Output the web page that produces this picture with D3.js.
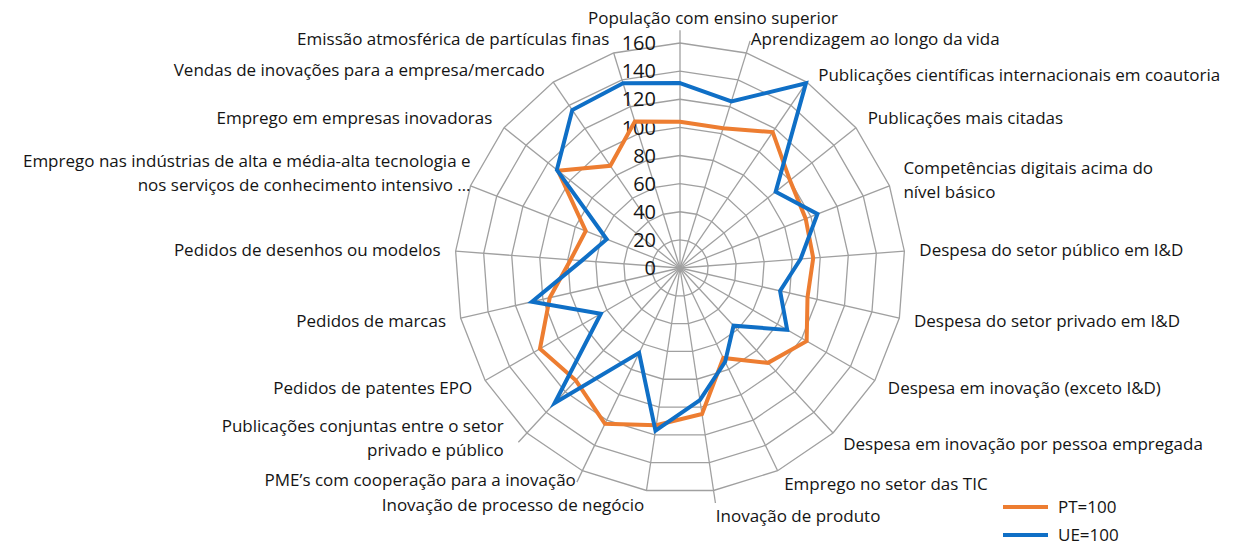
<!DOCTYPE html>
<html>
<head>
<meta charset="utf-8">
<script src="https://cdn.jsdelivr.net/npm/d3@7"></script>
<style>
  body { margin: 0; background: #fff; }
  svg text { font-family: "Open Sans", sans-serif; fill: #141414; }
</style>
</head>
<body>
<div id="chart"></div>
<script>
// indicator names, clockwise from the top
var indicators = [
  ["População com ensino superior"],
  ["Aprendizagem ao longo da vida"],
  ["Publicações científicas internacionais em coautoria"],
  ["Publicações mais citadas"],
  ["Competências digitais acima do", "nível básico"],
  ["Despesa do setor público em I&D"],
  ["Despesa do setor privado em I&D"],
  ["Despesa em inovação (exceto I&D)"],
  ["Despesa em inovação por pessoa empregada"],
  ["Emprego no setor das TIC"],
  ["Inovação de produto"],
  ["Inovação de processo de negócio"],
  ["PME’s com cooperação para a inovação"],
  ["Publicações conjuntas entre o setor", "privado e público"],
  ["Pedidos de patentes EPO"],
  ["Pedidos de marcas"],
  ["Pedidos de desenhos ou modelos"],
  ["Emprego nas indústrias de alta e média-alta tecnologia e", "nos serviços de conhecimento intensivo …"],
  ["Emprego em empresas inovadoras"],
  ["Vendas de inovações para a empresa/mercado"],
  ["Emissão atmosférica de partículas finas"]
];

var ptValues = [104, 104, 117, 100, 96, 95, 93, 104, 92, 71, 105, 113, 123, 109, 115, 95, 78, 72, 111, 88, 109];
var ueValues = [131.5, 124, 159, 87, 105, 86, 73, 88, 56, 74, 95, 117, 67, 131, 65, 108, 70, 56, 112, 136, 137.5];

var seriesNames = ["PT=100", "UE=100"];
var seriesColors = ["#ed7d31", "#0f6fc6"];
var tickValues = [0, 20, 40, 60, 80, 100, 120, 140, 160];

var width = 1235, height = 547;
var cx = 680, cy = 268;
var outerR = 225;
var labelR = 240;
var n = indicators.length;

var svg = d3.select("#chart").append("svg")
  .attr("width", width)
  .attr("height", height);

var r = d3.scaleLinear().domain([0, 160]).range([0, outerR]);
var angle = d3.scaleLinear().domain([0, n]).range([0, 2 * Math.PI]);

function pt(i, v) {
  var a = angle(i);
  return [cx + Math.sin(a) * r(v), cy - Math.cos(a) * r(v)];
}

var g = svg.append("g");

// rings
tickValues.slice(1).forEach(function(t) {
  var ring = d3.range(n).map(function(i) { return pt(i, t); });
  g.append("path")
    .attr("d", d3.line()(ring) + "Z")
    .attr("fill", "none")
    .attr("stroke", "#a0a0a0")
    .attr("stroke-width", 1.3);
});

// spokes (a few reach out to their moved labels)
var leaderAxes = [0, 1, 10, 12, 13];
d3.range(n).forEach(function(i) {
  var end = leaderAxes.indexOf(i) >= 0 ? 169 : 160;
  var p = pt(i, end);
  g.append("line")
    .attr("x1", cx).attr("y1", cy)
    .attr("x2", p[0]).attr("y2", p[1])
    .attr("stroke", "#a0a0a0")
    .attr("stroke-width", 1.3);
});

// tick labels
g.selectAll("text.tick")
  .data(tickValues)
  .enter().append("text")
  .attr("class", "tick")
  .attr("x", cx - 24)
  .attr("y", function(d) { return cy - r(d); })
  .attr("dy", "0.36em")
  .attr("text-anchor", "end")
  .attr("font-size", 20)
  .text(function(d) { return d; });

// series
var line = d3.line()
  .x(function(d) { return d[0]; })
  .y(function(d) { return d[1]; });

[ptValues, ueValues].forEach(function(vals, k) {
  var pts = vals.map(function(v, i) { return pt(i, v); });
  g.append("path")
    .attr("d", line(pts) + "Z")
    .attr("fill", "none")
    .attr("stroke", seriesColors[k])
    .attr("stroke-width", 4)
    .attr("stroke-linejoin", "miter");
});

// axis labels
var nudge = { 0: [33, -10], 10: [0, 11], 12: [0, -4], 13: [-13, -6], 17: [14, -7], 2: [3, 5] };
var lineH = 24;
indicators.forEach(function(lines, i) {
  var a = angle(i);
  var p = pt(i, 160 * labelR / outerR);
  var off = nudge[i] || [0, 0];
  var s = Math.sin(a);
  var anchor = Math.abs(s) < 0.01 ? "middle" : (s > 0 ? "start" : "end");
  var y0 = p[1] + off[1] - (lines.length - 1) * lineH / 2;
  var t = g.append("text")
    .attr("font-size", 17)
    .attr("text-anchor", anchor);
  lines.forEach(function(l, j) {
    t.append("tspan")
      .attr("x", p[0] + off[0])
      .attr("y", y0 + j * lineH)
      .attr("dy", "0.35em")
      .text(l);
  });
});

// legend
var legend = svg.append("g").selectAll("g")
  .data(seriesNames)
  .enter().append("g")
  .attr("transform", function(d, i) { return "translate(1003," + (507 + i * 28) + ")"; });
legend.append("line")
  .attr("x1", 0).attr("x2", 45)
  .attr("stroke", function(d, i) { return seriesColors[i]; })
  .attr("stroke-width", 4);
legend.append("text")
  .attr("x", 55)
  .attr("dy", "0.35em")
  .attr("font-size", 17)
  .text(function(d) { return d; });
</script>
</body>
</html>
